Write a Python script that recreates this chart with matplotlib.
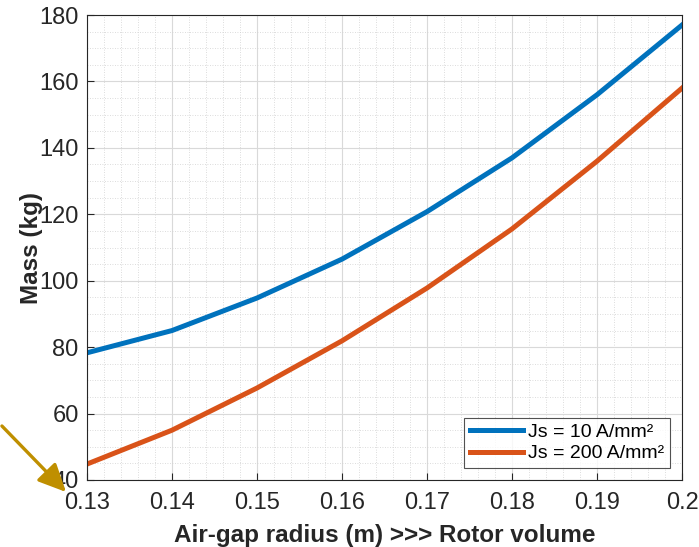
import matplotlib
matplotlib.use("Agg")
import matplotlib.pyplot as plt
import numpy as np

plt.rcParams["font.family"] = ["Liberation Sans", "DejaVu Sans"]

radius = [0.13, 0.14, 0.15, 0.16, 0.17, 0.18, 0.19, 0.20]
mass_js10 = [78.3, 85.0, 94.8, 106.5, 120.8, 137.0, 156.0, 177.0]
mass_js200 = [44.8, 55.0, 67.7, 81.9, 97.8, 115.6, 136.0, 158.0]
labels = ["Js = 10 A/mm²", "Js = 200 A/mm²"]
xticks = [0.13, 0.14, 0.15, 0.16, 0.17, 0.18, 0.19, 0.20]
xticklabels = ["0.13", "0.14", "0.15", "0.16", "0.17", "0.18", "0.19", "0.2"]
yticks = [40, 60, 80, 100, 120, 140, 160, 180]

fig = plt.figure(figsize=(6.99, 5.47), dpi=100)
ax = fig.add_axes([0.1245, 0.1225, 0.8512, 0.850])

ax.plot(radius, mass_js10, color="#0072BD", lw=3.6, label=labels[0])
ax.plot(radius, mass_js200, color="#D95319", lw=3.6, label=labels[1])

ax.set_xlim(0.13, 0.20)
ax.set_ylim(40, 180)
ax.set_xticks(xticks)
ax.set_xticklabels(xticklabels)
ax.set_yticks(yticks)
ax.set_xticks(np.arange(0.13, 0.2001, 0.002), minor=True)
ax.set_yticks(np.arange(40, 180.1, 5), minor=True)

ax.grid(which="major", color="#d9d9d9", lw=0.8)
ax.grid(which="minor", color="#d0d0d0", lw=0.6, ls=(0, (1, 2)))
ax.set_axisbelow(True)
ax.tick_params(which="major", direction="in", length=5, labelsize=17,
               colors="#262626")
ax.tick_params(axis="x", pad=9)
ax.tick_params(axis="y", pad=6)
ax.tick_params(which="minor", length=0)
for s in ax.spines.values():
    s.set_color("#262626")
    s.set_linewidth(0.8)

ax.set_xlabel("Air-gap radius (m) >>> Rotor volume", fontsize=17.5,
              fontweight="bold", color="#262626", labelpad=7)
ax.set_ylabel("Mass (kg)", fontsize=17.5, fontweight="bold", color="#262626",
              labelpad=-2.5)

leg = ax.legend(loc="lower right", fontsize=14, frameon=True, fancybox=False,
                edgecolor="#262626", handlelength=2.7, borderpad=0.3,
                labelspacing=0.2, handletextpad=0.3, borderaxespad=0.6)
leg.get_frame().set_linewidth(0.8)

# arrow pointing to the origin label
ax.annotate("", xy=(68 / 699, 1 - 494 / 547), xycoords="figure fraction",
            xytext=(0, 1 - 424 / 547), textcoords="figure fraction",
            arrowprops=dict(arrowstyle="-|>,head_length=0.85,head_width=0.4",
                            mutation_scale=20, color="#BF8F00", lw=2.4),
            annotation_clip=False)

fig.savefig("out.png", dpi=100)
